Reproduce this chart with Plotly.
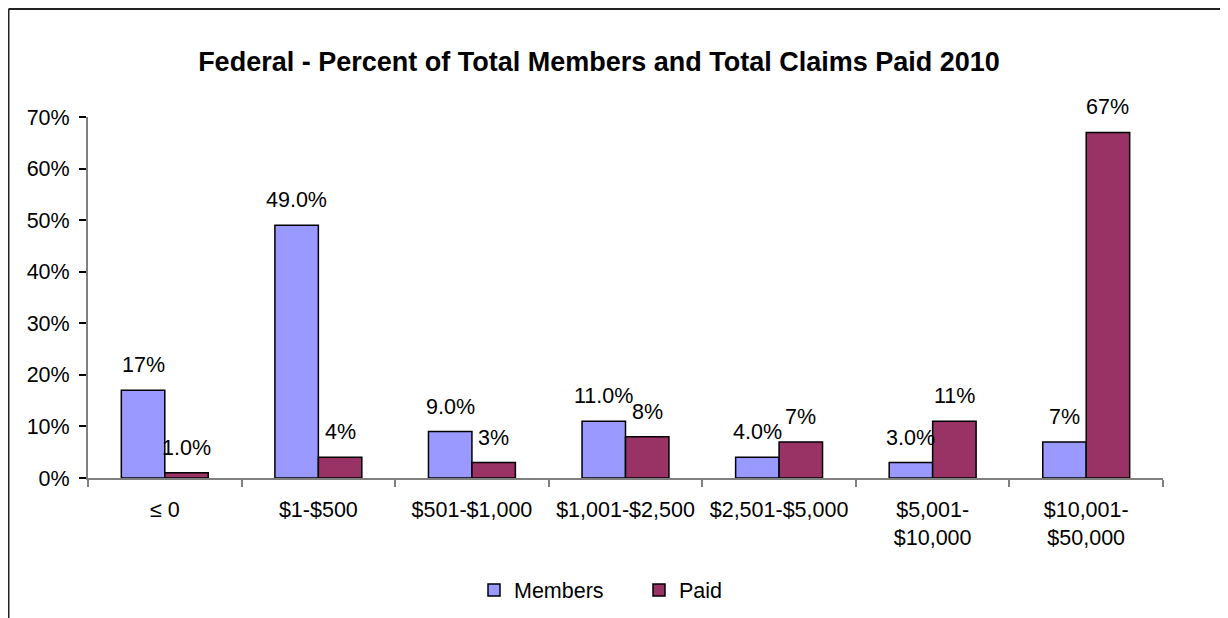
import plotly.graph_objects as go

categories = ["≤ 0", "$1-$500", "$501-$1,000", "$1,001-$2,500", "$2,501-$5,000",
              "$5,001-<br>$10,000", "$10,001-<br>$50,000"]
members = [0.17, 0.49, 0.09, 0.11, 0.04, 0.03, 0.07]
paid = [0.01, 0.04, 0.03, 0.08, 0.07, 0.11, 0.67]
members_labels = ["17%", "49.0%", "9.0%", "11.0%", "4.0%", "3.0%", "7%"]
paid_labels = ["1.0%", "4%", "3%", "8%", "7%", "11%", "67%"]
y_ticks = [0, 0.1, 0.2, 0.3, 0.4, 0.5, 0.6, 0.7]
y_tick_labels = ["0%", "10%", "20%", "30%", "40%", "50%", "60%", "70%"]

# page body has an 8px margin; work in screen pixels and convert
OFF = 8
W, H = 1228 - OFF, 618 - OFF
PL, PR, PT, PB = 88, 1163, 117, 478          # plot area in screen px
L, R, T, B = PL - OFF, W - (PR - OFF), PT - OFF, H - (PB - OFF)
plot_w = PR - PL
plot_h = PB - PT
BARGAP = 0.434
FONT = "Arial, Liberation Sans, sans-serif"
FS = 21.5

fig = go.Figure()
fig.add_trace(go.Bar(x=categories, y=members, name="Members",
                     marker=dict(color="#9999FF", line=dict(color="#000000", width=1.5))))
fig.add_trace(go.Bar(x=categories, y=paid, name="Paid",
                     marker=dict(color="#993366", line=dict(color="#000000", width=1.5))))

cat_px = plot_w / len(categories)
off = cat_px * (1 - BARGAP) / 4
annotations = []
for c, v, t in zip(categories, members, members_labels):
    annotations.append(dict(x=c, y=v, text=t, xref="x", yref="y", showarrow=False,
                            xshift=-off, yshift=25, yanchor="middle",
                            font=dict(size=FS, color="#000000", family=FONT)))
for c, v, t in zip(categories, paid, paid_labels):
    annotations.append(dict(x=c, y=v, text=t, xref="x", yref="y", showarrow=False,
                            xshift=off, yshift=25, yanchor="middle",
                            font=dict(size=FS, color="#000000", family=FONT)))

def px_x(p):  # screen px -> paper x
    return (p - PL) / plot_w

def px_y(p):  # screen px -> paper y
    return (PB - p) / plot_h

shapes = [
    dict(type="line", xref="paper", yref="paper", x0=px_x(8.5), x1=px_x(1240),
         y0=px_y(9), y1=px_y(9), line=dict(color="#222222", width=2)),
    dict(type="line", xref="paper", yref="paper", x0=px_x(8.5), x1=px_x(8.5),
         y0=px_y(9), y1=px_y(640), line=dict(color="#222222", width=2)),
]

fig.update_layout(
    template="none",
    width=W, height=H,
    margin=dict(l=L, r=R, t=T, b=B, autoexpand=False),
    paper_bgcolor="white", plot_bgcolor="white",
    font=dict(family=FONT, size=FS, color="#000000"),
    barmode="group", bargap=BARGAP, bargroupgap=0,
    title=dict(text="<b>Federal - Percent of Total Members and Total Claims Paid 2010</b>",
               x=px_x(599), xref="paper", xanchor="center",
               y=1 - (62 - OFF) / H, yref="container", yanchor="middle",
               font=dict(size=27, family=FONT, color="#000000")),
    xaxis=dict(showline=True, linecolor="#808080", linewidth=2, ticks="outside",
               tickson="boundaries", ticklen=7, tickcolor="#808080", tickwidth=1.5,
               showgrid=False, zeroline=False, automargin=False,
               ticklabelstandoff=11, tickfont=dict(size=FS)),
    yaxis=dict(range=[0, 0.7], tickvals=y_ticks, ticktext=y_tick_labels,
               showline=True, linecolor="#808080", linewidth=2, ticks="outside",
               ticklen=7, tickcolor="#000000", tickwidth=1.5, showgrid=False,
               zeroline=False, automargin=False,
               ticklabelstandoff=5, tickfont=dict(size=FS)),
    legend=dict(orientation="h", x=px_x(639), xanchor="center", y=px_y(590),
                yanchor="middle", font=dict(size=FS), bgcolor="rgba(0,0,0,0)",
                borderwidth=0, entrywidth=120, entrywidthmode="pixels"),
    annotations=annotations,
    shapes=shapes,
)

fig.write_html("out.html")
